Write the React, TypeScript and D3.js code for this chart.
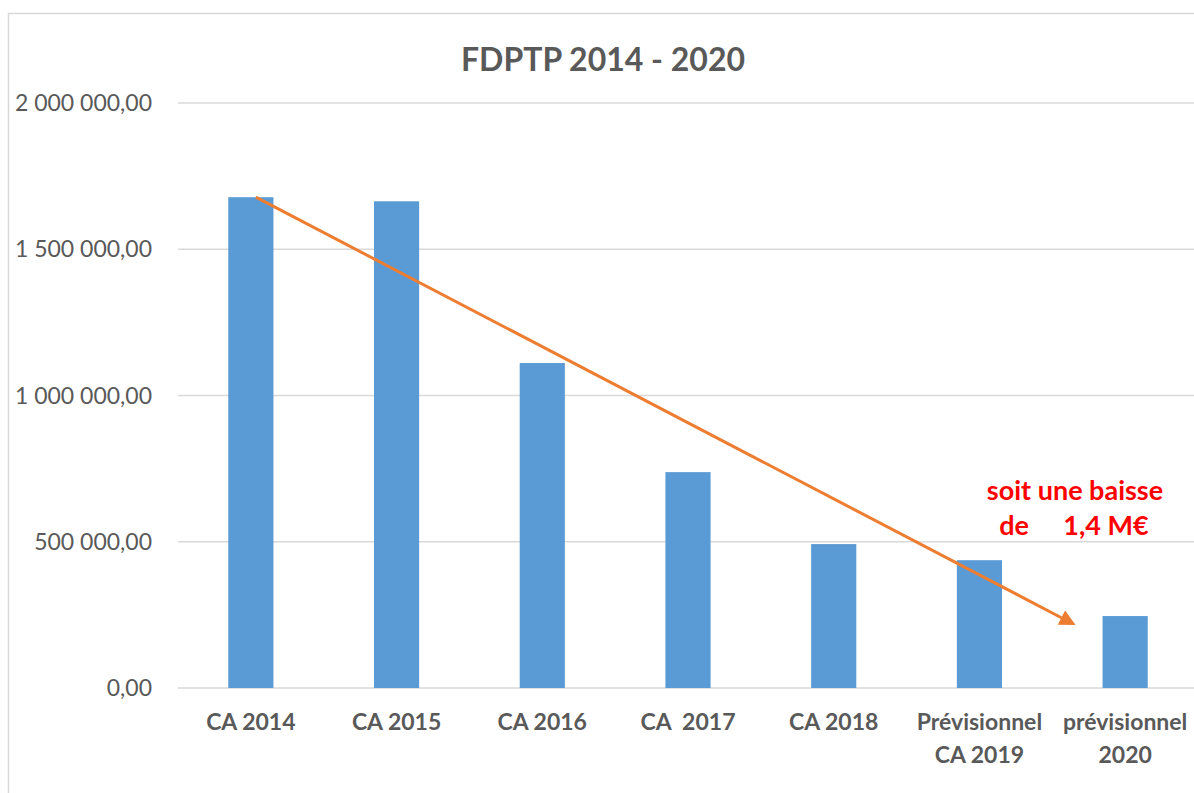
import React, { useEffect, useRef } from "react";
import * as d3 from "d3";

// categories (multi-line labels split by "\n")
const categories = [
  "CA 2014",
  "CA 2015",
  "CA 2016",
  "CA  2017",
  "CA 2018",
  "Prévisionnel\nCA 2019",
  "prévisionnel\n2020",
];
const values = [1678000, 1664000, 1111000, 738000, 492000, 437000, 246000];
const yTicks = [0, 500000, 1000000, 1500000, 2000000];
const title = "FDPTP 2014 - 2020";
const noteLine1 = "soit une baisse";
const noteLine2 = ["de", "1,4 M€"];

const W = 1194;
const H = 793;
const FONT = "Lato, 'Open Sans', sans-serif";

const fmt = (v: number) => {
  const s = d3.format(",.2f")(v);
  return s.replace(/,/g, " ").replace(".", ",");
};

export default function App() {
  const ref = useRef<SVGSVGElement>(null);

  useEffect(() => {
    const svg = d3.select(ref.current);
    svg.selectAll("*").remove();

    const margin = { top: 103, left: 178, right: -4, bottom: 105 };
    const iw = W - margin.left - margin.right;
    const ih = H - margin.top - margin.bottom;

    // chart border
    svg.append("rect")
      .attr("x", 8.5).attr("y", 13.5)
      .attr("width", W).attr("height", H)
      .attr("fill", "white")
      .attr("stroke", "#d9d9d9")
      .attr("stroke-width", 1.5);

    svg.append("text")
      .attr("x", 603).attr("y", 71)
      .attr("text-anchor", "middle")
      .attr("font-family", FONT)
      .attr("font-weight", "bold")
      .attr("font-size", 32)
      .attr("fill", "#595959")
      .text(title);

    const g = svg.append("g").attr("transform", `translate(${margin.left},${margin.top})`);

    const x = d3.scaleBand().domain(categories).range([0, iw]).paddingInner(0.69).paddingOuter(0.345);
    const y = d3.scaleLinear().domain([0, 2000000]).range([ih, 0]);

    // gridlines
    g.selectAll("line.grid").data(yTicks).enter().append("line")
      .attr("class", "grid")
      .attr("x1", 0).attr("x2", iw)
      .attr("y1", d => y(d)).attr("y2", d => y(d))
      .attr("stroke", "#d9d9d9")
      .attr("stroke-width", 1.5);

    // y labels
    g.selectAll("text.ytick").data(yTicks).enter().append("text")
      .attr("class", "ytick")
      .attr("x", -26)
      .attr("y", d => y(d))
      .attr("dy", "0.35em")
      .attr("text-anchor", "end")
      .attr("font-family", FONT)
      .attr("font-size", 23)
      .attr("fill", "#595959")
      .text(d => fmt(d));

    // bars
    g.selectAll("rect.bar").data(values).enter().append("rect")
      .attr("class", "bar")
      .attr("x", (d, i) => x(categories[i]) as number)
      .attr("y", d => y(d))
      .attr("width", x.bandwidth())
      .attr("height", d => ih - y(d))
      .attr("fill", "#5b9bd5");

    // x labels
    const xl = g.selectAll("text.xtick").data(categories).enter().append("text")
      .attr("class", "xtick")
      .attr("x", d => (x(d) as number) + x.bandwidth() / 2)
      .attr("y", ih + 42)
      .attr("text-anchor", "middle")
      .attr("font-family", FONT)
      .attr("font-weight", "bold")
      .attr("font-size", 23)
      .attr("fill", "#595959")
      .style("white-space", "pre");
    xl.each(function (d) {
      const lines = d.split("\n");
      lines.forEach((l, i) => {
        d3.select(this).append("tspan")
          .attr("x", (x(d) as number) + x.bandwidth() / 2)
          .attr("dy", i === 0 ? 0 : 33)
          .text(l);
      });
    });

    // trend arrow
    const step = x.step();
    const x0 = (x(categories[0]) as number) + x.bandwidth() / 2 + 5;
    const y0 = y(values[0]);
    const x1 = (x(categories[6]) as number) + x.bandwidth() / 2 - step * 0.34;
    const y1 = y(215000);
    const ang = Math.atan2(y1 - y0, x1 - x0);
    const headLen = 16;
    const headW = 8;
    const bx = x1 - headLen * Math.cos(ang);
    const by = y1 - headLen * Math.sin(ang);
    g.append("line")
      .attr("x1", x0).attr("y1", y0)
      .attr("x2", bx).attr("y2", by)
      .attr("stroke", "#ed7d31")
      .attr("stroke-width", 3);
    const px = -Math.sin(ang) * headW;
    const py = Math.cos(ang) * headW;
    g.append("path")
      .attr("d", `M${x1},${y1}L${bx + px},${by + py}L${bx - px},${by - py}Z`)
      .attr("fill", "#ed7d31");

    // annotation
    const note = g.append("g")
      .attr("font-family", FONT)
      .attr("font-weight", "bold")
      .attr("font-size", 27)
      .attr("fill", "#ff0000")
      .attr("text-anchor", "middle");
    note.append("text")
      .attr("x", 1075 - margin.left)
      .attr("y", 500 - margin.top)
      .text(noteLine1);
    note.append("text")
      .attr("x", 1014 - margin.left)
      .attr("y", 535 - margin.top)
      .text(noteLine2[0]);
    note.append("text")
      .attr("x", 1106 - margin.left)
      .attr("y", 535 - margin.top)
      .text(noteLine2[1]);
  }, []);

  return (
    <svg
      ref={ref}
      width={W}
      height={H}
      style={{ position: "absolute", left: 0, top: 0, background: "white" }}
    />
  );
}
